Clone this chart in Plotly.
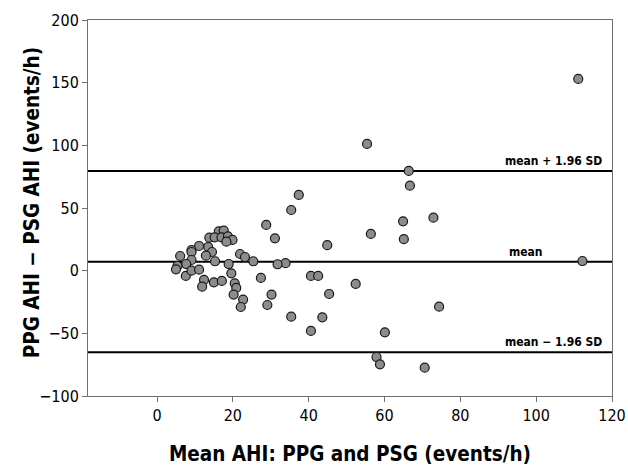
import plotly.graph_objects as go

mean_ahi = [55.4, 66.4, 66.7, 37.4, 35.4, 64.9, 72.9, 56.4, 65.1, 44.9, 33.9, 31.8, 40.6, 42.5,
            52.4, 45.4, 74.4, 35.4, 43.6, 40.6, 60.1, 57.9, 58.8, 70.6, 112.2, 111.1,
            28.8, 31.1, 16.3, 17.6, 13.8, 15.2, 17.0, 18.7, 19.9, 18.3, 11.1, 13.5, 14.5,
            9.1, 9.1, 12.9, 6.1, 21.9, 23.2, 25.4, 15.3, 18.9, 9.1, 7.7, 5.4, 5.0, 7.6,
            9.1, 11.1, 19.6, 27.4, 12.4, 11.9, 15.0, 17.1, 20.5, 20.9, 20.2, 22.7, 22.1,
            30.2, 29.1]
diff_ahi = [101.1, 79.6, 67.8, 60.4, 48.4, 39.4, 42.3, 29.3, 25.1, 20.3, 6.0, 5.1, -4.2, -4.2,
            -10.6, -18.6, -28.7, -36.7, -37.2, -48.1, -49.2, -68.9, -74.7, -77.4, 7.7, 153.0,
            36.5, 25.8, 31.4, 31.9, 26.3, 26.6, 26.6, 27.4, 24.5, 23.1, 19.7, 18.9, 14.9,
            16.5, 14.9, 12.0, 11.7, 13.3, 10.9, 7.5, 7.5, 5.3, 8.5, 5.3, 3.8, 1.1, -4.2,
            0.0, 0.8, -2.1, -5.8, -7.4, -12.8, -9.3, -8.2, -10.1, -13.8, -19.1, -23.1, -29.0,
            -19.1, -27.4]

mean_diff = 7.2
upper_loa = 79.5
lower_loa = -65.1
line_labels = ["mean + 1.96 SD", "mean", "mean \u2212 1.96 SD"]

x_ticks = [0, 20, 40, 60, 80, 100, 120]
y_ticks = [-100, -50, 0, 50, 100, 150, 200]
x_range = [-18.2, 120]
y_range = [-100, 200]

x_title = "Mean AHI: PPG and PSG (events/h)"
y_title = "PPG AHI \u2212 PSG AHI (events/h)"

FONT = "DejaVu Sans Condensed, Liberation Sans Narrow, Arial Narrow, Liberation Sans, Arial, sans-serif"

fig = go.Figure()
for yv in [upper_loa, mean_diff, lower_loa]:
    fig.add_trace(go.Scatter(x=x_range, y=[yv, yv], mode="lines",
                             line=dict(color="black", width=2), hoverinfo="skip",
                             showlegend=False))
fig.add_trace(go.Scatter(x=mean_ahi, y=diff_ahi, mode="markers",
                         marker=dict(size=9, color="#8c8c8c",
                                     line=dict(color="#1a1a1a", width=1.2)),
                         showlegend=False))

fig.add_annotation(x=118.0, y=upper_loa, text="<b>" + line_labels[0] + "</b>", showarrow=False,
                   xanchor="right", yanchor="bottom", yshift=1, font=dict(size=12))
fig.add_annotation(x=92.3, y=mean_diff, text="<b>" + line_labels[1] + "</b>", showarrow=False,
                   xanchor="left", yanchor="bottom", yshift=1, font=dict(size=12))
fig.add_annotation(x=118.0, y=lower_loa, text="<b>" + line_labels[2] + "</b>", showarrow=False,
                   xanchor="right", yanchor="bottom", yshift=1, font=dict(size=12))

# y-axis title placed as rotated text close to the tick labels
fig.add_annotation(xref="paper", yref="paper", x=-0.107, y=0.515, text="<b>" + y_title + "</b>",
                   textangle=-90, showarrow=False, xanchor="center", yanchor="middle",
                   font=dict(family=FONT, size=20.5, color="black"))

axis_common = dict(showgrid=False, zeroline=False, showline=True, linecolor="#707070",
                   linewidth=1, mirror=True, ticks="outside", tickcolor="#707070",
                   ticklen=5, tickwidth=1, automargin=False,
                   tickfont=dict(family=FONT, size=16, color="black"))

fig.update_xaxes(range=x_range, tickvals=x_ticks, **axis_common,
                 title=dict(text="<b>" + x_title + "</b>",
                            font=dict(family=FONT, size=20.5, color="black"), standoff=23))
fig.update_yaxes(range=y_range, tickvals=y_ticks, **axis_common)

fig.update_layout(width=628, height=466, margin=dict(l=88, r=16, t=20, b=70),
                  plot_bgcolor="white", paper_bgcolor="white", hovermode=False,
                  font=dict(family=FONT, size=13, color="black"))

# remove the default page margin so the figure fills the window exactly
fig.write_html("out.html", config={"displayModeBar": False},
               post_script="document.body.style.margin='0';document.body.style.overflow='hidden';")
